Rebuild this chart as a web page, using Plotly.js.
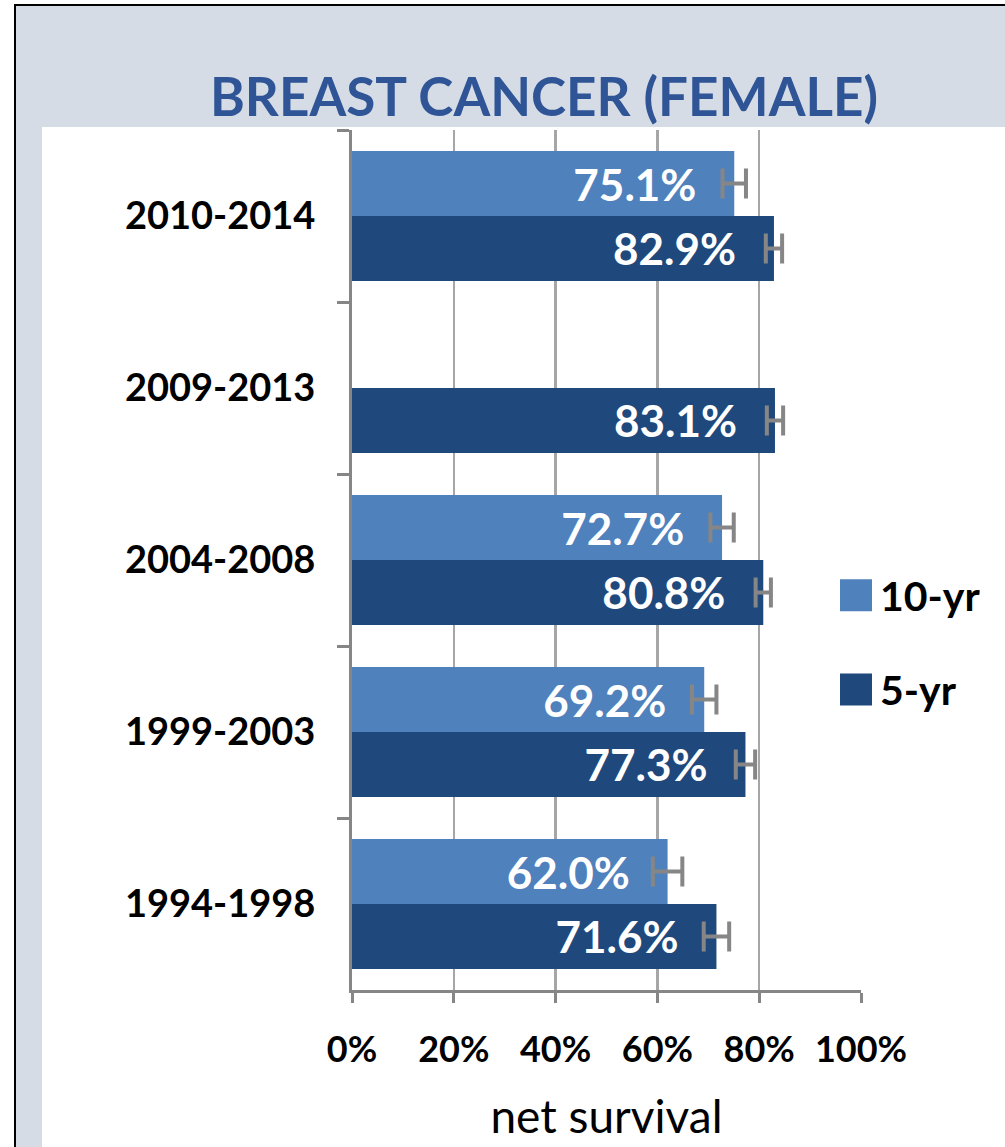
<!DOCTYPE html>
<html>
<head>
<meta charset="utf-8">
<script src="https://cdn.plot.ly/plotly-3.0.1.min.js"></script>
<style>
body{margin:0;padding:0;background:#fff}
#chart{width:1005px;height:1147px}
</style>
</head>
<body>
<div id="chart"></div>
<script>
// survival by diagnosis period
const periods=['2010-2014','2009-2013','2004-2008','1999-2003','1994-1998']
const tenYr=[75.1,null,72.7,69.2,62.0]
const tenYrErr=[2.3,null,2.3,2.4,2.9]
const fiveYr=[82.9,83.1,80.8,77.3,71.6]
const fiveYrErr=[1.6,1.6,1.5,1.9,2.5]
const xTicks=[0,20,40,60,80,100]
const xTickText=['0%','20%','40%','60%','80%','100%']

// plot box in pixels
const W=1005,H=1147
const L=352,R=861,T=130,B=990
let px2x=p=>(p-L)/(R-L)
let px2y=p=>(B-p)/(B-T)

const pad='\u00a0\u00a0\u00a0\u200a'
const gray='#868686'

let bar=(name,x,err,color)=>({
    type:'bar',
    orientation:'h',
    name:name,
    legendgroup:name,
    y:periods,
    x:x,
    marker:{color:color},
    text:x.map(v=>v==null?'':v.toFixed(1)+'%'+pad),
    textposition:'inside',
    insidetextanchor:'end',
    constraintext:'none',
    textfont:{family:'Lato',size:44,color:'#fff',weight:'bold'},
    error_x:{type:'data',array:err,visible:true,color:gray,thickness:4,width:15},
    hoverinfo:'x+name'
})

let traces=[
    bar('10-yr',tenYr,tenYrErr,'#4f81bd'),
    bar('5-yr',fiveYr,fiveYrErr,'#1f497c')
]

let layout={
    width:W,
    height:H,
    margin:{l:L,r:W-R,t:T,b:H-B,pad:0},
    paper_bgcolor:'#fff',
    plot_bgcolor:'#fff',
    barmode:'group',
    bargap:0.245,
    bargroupgap:0,
    font:{family:'Lato',color:'#000'},
    title:{
        text:'BREAST CANCER (FEMALE)',
        font:{family:'Lato',size:53,color:'#2f5597',weight:'bold'},
        x:544/W,xref:'container',xanchor:'center',
        y:1-97/H,yref:'container',yanchor:'middle'
    },
    xaxis:{
        range:[0,100],
        tickvals:xTicks,
        ticktext:xTickText,
        tickfont:{family:'Lato',size:36,color:'#000',weight:'bold'},
        ticks:'outside',ticklen:10,tickwidth:3,tickcolor:gray,
        ticklabelstandoff:16,
        showline:true,linecolor:gray,linewidth:3,
        showgrid:true,gridcolor:'#a6a6a6',gridwidth:2.5,
        zeroline:false,
        fixedrange:true,
        title:{text:'net survival',font:{family:'Lato',size:46,color:'#000'},standoff:32}
    },
    yaxis:{
        type:'category',
        autorange:'reversed',
        tickson:'boundaries',
        ticks:'outside',ticklen:12,tickwidth:3,tickcolor:gray,
        ticklabelstandoff:26,
        tickfont:{family:'Lato',size:38,color:'#000',weight:'bold'},
        showline:true,linecolor:gray,linewidth:3,
        showgrid:false,
        zeroline:false,
        fixedrange:true
    },
    legend:{
        x:px2x(840),xanchor:'left',
        y:px2y(562),yanchor:'top',
        traceorder:'grouped',
        tracegroupgap:38,
        bgcolor:'rgba(0,0,0,0)',
        font:{family:'Lato',size:41,color:'#000',weight:'bold'}
    },
    shapes:[
        // grey frame
        {type:'rect',xref:'paper',yref:'paper',layer:'below',
         x0:px2x(15),x1:px2x(1012),y0:px2y(1152),y1:px2y(5),
         fillcolor:'#d6dce5',line:{color:'#000',width:2}},
        // white chart area
        {type:'rect',xref:'paper',yref:'paper',layer:'below',
         x0:px2x(42),x1:px2x(1012),y0:px2y(1152),y1:px2y(127),
         fillcolor:'#fff',line:{width:0}}
    ],
    showlegend:true
}

Plotly.newPlot('chart',traces,layout,{displayModeBar:false,staticPlot:true}).then(gd=>{
    // bigger square legend swatches like the original (symbol sits at translate(20,0))
    gd.querySelectorAll('.legendpoints path').forEach(p=>{
        p.setAttribute('d','M12,16H-20V-16H12Z')
        p.style.strokeWidth='0'
    })
})
</script>
</body>
</html>
